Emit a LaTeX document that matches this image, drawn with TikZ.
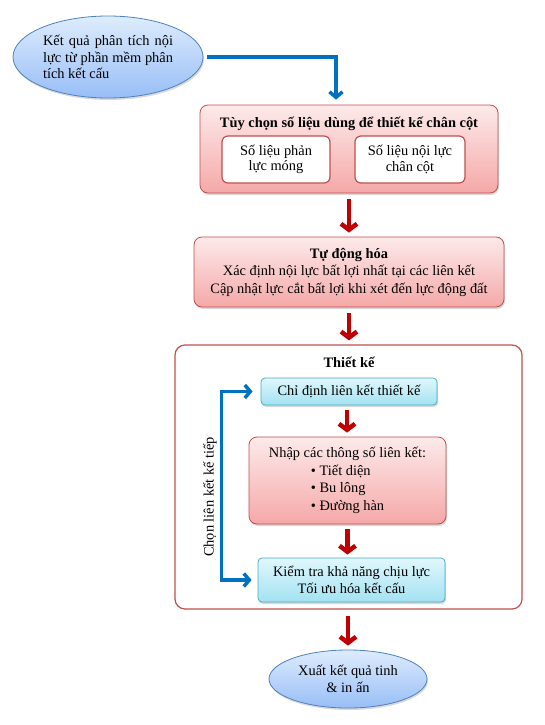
\documentclass[tikz,border=0pt]{standalone}
\usepackage{fontspec}
\setmainfont{Liberation Serif}
\usepackage{tikz}
\usetikzlibrary{arrows.meta, shapes.geometric, shadows}
\definecolor{boxred}{RGB}{192,80,77}
\definecolor{pinktop}{RGB}{253,234,234}
\definecolor{pinkbot}{RGB}{245,168,168}
\definecolor{boxcyan}{RGB}{75,172,198}
\definecolor{cyantop}{RGB}{224,247,252}
\definecolor{cyanbot}{RGB}{163,226,242}
\definecolor{ellblue}{RGB}{79,129,189}
\definecolor{elltop}{RGB}{222,236,253}
\definecolor{ellbot}{RGB}{152,190,246}
\definecolor{arrowred}{RGB}{192,0,0}
\definecolor{arrowblue}{RGB}{0,112,192}
\tikzset{txt/.style = {font = \fontsize{14.4}{17.5}\selectfont}}
\tikzset{shade/.style = {drop shadow = {shadow xshift = 1pt, shadow yshift = -2pt, opacity = 0.3}}}
\tikzset{redbox/.style = {txt, draw = boxred, line width = 0.8pt, rounded corners = 8pt, top color = pinktop, bottom color = pinkbot, shade, align = center}}
\tikzset{whitebox/.style = {draw = boxred, line width = 1.2pt, rounded corners = 6pt, fill = white, align = center, font = \fontsize{14.4}{15.5}\selectfont}}
\tikzset{cyanbox/.style = {txt, draw = boxcyan, line width = 0.8pt, rounded corners = 4pt, top color = cyantop, bottom color = cyanbot, shade, align = center}}
\tikzset{ellnode/.style = {txt, shape = ellipse, draw = ellblue, line width = 0.8pt, top color = elltop, bottom color = ellbot, shade, inner sep = 0pt}}
\tikzset{redarrow/.style = {draw = arrowred, line width = 4.5pt, -{Straight Barb[length = 6pt, width = 16pt]}}}
\tikzset{bluearrow/.style = {draw = arrowblue, line width = 3.5pt}}
\tikzset{bluetip/.tip = {Straight Barb[length = 5.5pt, width = 13pt]}}

\begin{document}
\begin{tikzpicture}[x = 1pt, y = -1pt]
	\useasboundingbox (0, 0) rectangle (544, 725);

	% start and end
	\node[ellnode, minimum width = 190, minimum height = 82] (ketqua) at (108, 57)
		{\parbox{130pt}{\fontsize{14.4}{16.5}\selectfont Kết quả phân tích nội\linebreak lực từ phần mềm phân\linebreak tích kết cấu}};
	\node[ellnode, minimum width = 158, minimum height = 58, align = center] (xuat) at (348, 679)
		{Xuất kết quả tinh\\ \& in ấn};

	% data choice
	\node[redbox, minimum width = 298, minimum height = 88] (tuychon) at (349, 149) {};
	\node[font = \fontsize{14.4}{17.5}\selectfont\bfseries] (tuychontitle) at (349, 124) {Tùy chọn số liệu dùng để thiết kế chân cột};
	\node[whitebox, minimum width = 108, minimum height = 47] (phanluc) at (276, 159.5) {Số liệu phản\\ lực móng};
	\node[whitebox, minimum width = 110, minimum height = 47] (noiluc) at (410, 159.5) {Số liệu nội lực\\ chân cột};

	\node[redbox, minimum width = 310, minimum height = 70] (tudong) at (349, 272)
		{\textbf{Tự động hóa}\\ Xác định nội lực bất lợi nhất tại các liên kết\\ Cập nhật lực cắt bất lợi khi xét đến lực động đất};

	% design frame
	\node[draw = boxred, line width = 1.2pt, rounded corners = 10pt, fill = white, minimum width = 347, minimum height = 264] (thietke) at (348.5, 477) {};
	\node[font = \fontsize{14.4}{17.5}\selectfont\bfseries] (thietketitle) at (349, 362) {Thiết kế};
	\node[cyanbox, minimum width = 176, minimum height = 27] (chidinh) at (349, 391.5) {Chỉ định liên kết thiết kế};
	\node[redbox, align = left, minimum width = 197, minimum height = 87] (nhap) at (347.5, 480.5)
		{Nhập các thông số liên kết:\\ \hspace*{42pt}• Tiết diện\\ \hspace*{42pt}• Bu lông\\ \hspace*{42pt}• Đường hàn};
	\node[cyanbox, minimum width = 187, minimum height = 44] (kiemtra) at (351.5, 580)
		{Kiểm tra khả năng chịu lực\\ Tối ưu hóa kết cấu};
	\node[txt, rotate = 90] (chonlk) at (210, 497) {Chọn liên kết kế tiếp};

	% connectors
	\draw[bluearrow, -bluetip] ([xshift = 4pt]ketqua.east) -| ([xshift = -13pt, yshift = 5pt]tuychon.north);
	\draw[redarrow, shorten <= 6pt, shorten >= 4pt] (tuychon.south) to (tudong.north);
	\draw[redarrow, shorten <= 6pt, shorten >= 4pt] (tudong.south) to ([xshift = 0.5pt]thietke.north);
	\draw[redarrow, shorten <= 5pt, shorten >= 4pt] ([xshift = -2pt]chidinh.south) to ([xshift = -0.5pt]nhap.north);
	\draw[redarrow, shorten <= 5pt, shorten >= 3pt] (nhap.south) to ([xshift = -4pt]kiemtra.north);
	\draw[redarrow, shorten <= 6pt, shorten >= 4pt] ([xshift = -0.5pt]thietke.south) to (xuat.north);
	\draw[bluearrow, bluetip-bluetip] ([xshift = -8pt]chidinh.west) -| ([xshift = -36pt]kiemtra.west) -- ([xshift = -6pt]kiemtra.west);
\end{tikzpicture}
\end{document}
